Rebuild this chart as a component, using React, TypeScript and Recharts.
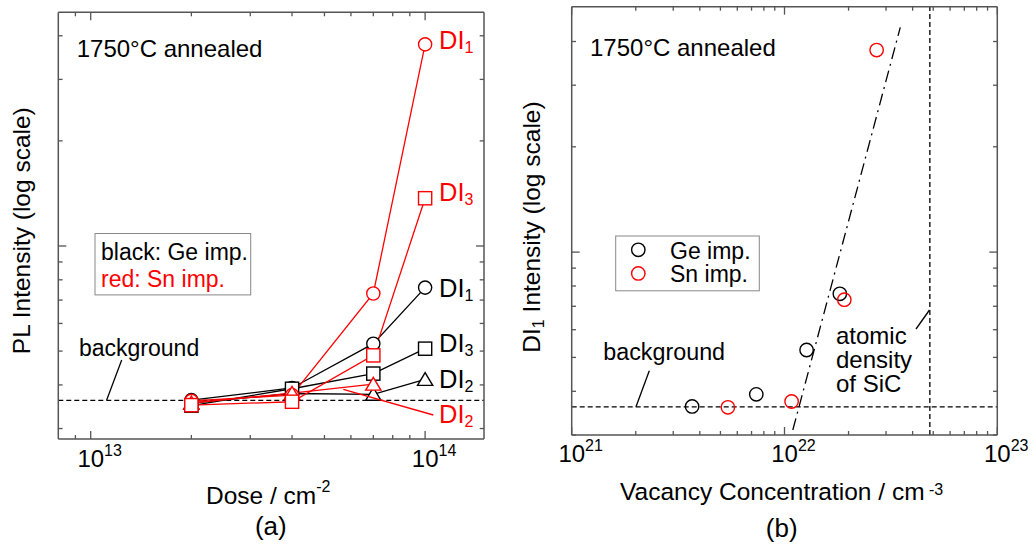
import React from 'react';
import { ComposedChart, Line, Scatter, XAxis, YAxis, ReferenceLine, ReferenceDot } from 'recharts';

const FONT = '"Liberation Sans", Arial, Helvetica, sans-serif';
const FRAME = '#555555';
const RED = '#ff0000';
const BLACK = '#000000';

// ---------- data (a): PL intensity vs dose ----------
const doses = [2e13, 4e13, 7e13, 1e14];
const geDI1 = [3.62, 3.92, 5.25, 7.6];
const geDI3 = [3.49, 3.9, 4.31, 5.08];
const geDI2 = [3.55, 3.78, 3.76, 4.15];
const snDI1 = [3.6, 3.74, 7.31, 37.8];
const snDI3 = [3.5, 3.58, 4.86, 13.7];
const snDI2 = [3.55, 3.79, 4.02];

// ---------- data (b): DI1 intensity vs vacancy concentration ----------
const geVacancy = [3.68e21, 7.37e21, 1.27e22, 1.82e22];
const snVacancy = [5.42e21, 1.08e22, 1.91e22, 2.71e22];
const fitLineX = [1.094e22, 3.5e22];
const fitLineY = [3.1, 43.9];

const backgroundLevel = 3.61;
const sicAtomicDensity = 4.82e22;

// ---------- axes ----------
const doseDomain = [8e12, 1.5e14];
const doseTicks = [9e12, 1e13, 2e13, 3e13, 4e13, 5e13, 6e13, 7e13, 8e13, 9e13, 1e14];
const vacDomain = [1e21, 1e23];
const vacTicks = [
  1e21, 2e21, 3e21, 4e21, 5e21, 6e21, 7e21, 8e21, 9e21,
  1e22, 2e22, 3e22, 4e22, 5e22, 6e22, 7e22, 8e22, 9e22, 1e23,
];
const intensityTicks = [3, 4, 5, 6, 7, 8, 9, 10, 20, 30, 40];
const leftIntensityDomain = [2.8, 46.7];
const rightIntensityDomain = [3.0, 50.3];

const toPoints = (xs: number[], ys: number[]) => ys.map((y, i) => ({ x: xs[i], y }));

function Marker({ cx, cy, kind, color }: { cx: number; cy: number; kind: string; color: string }) {
  if (cx == null || cy == null || isNaN(cx) || isNaN(cy)) return <g />;
  const sw = 1.4;
  if (kind === 'circle') {
    return <circle cx={cx} cy={cy} r={6.6} fill="#fff" stroke={color} strokeWidth={sw} />;
  }
  if (kind === 'square') {
    return <rect x={cx - 6.6} y={cy - 6.6} width={13.2} height={13.2} fill="#fff" stroke={color} strokeWidth={sw} />;
  }
  return (
    <polygon
      points={`${cx},${cy - 6.8} ${cx - 7.6},${cy + 6} ${cx + 7.6},${cy + 6}`}
      fill="#fff"
      stroke={color}
      strokeWidth={sw}
    />
  );
}

const dotRenderer = (kind: string, color: string, id: string) => (p: any) => (
  <Marker key={`${id}-${p.index}`} cx={p.cx} cy={p.cy} kind={kind} color={color} />
);

const scatterShape = (color: string) => (p: any) => (
  <circle cx={p.cx} cy={p.cy} r={6.7} fill="none" stroke={color} strokeWidth={1.4} />
);

const diLabel = (sub: string, color: string, dx: number, dy: number) => (p: any) => (
  <text x={p.cx + dx} y={p.cy + dy} fill={color} fontSize={25.5} fontFamily={FONT}>
    DI
    <tspan fontSize={16} dy={4}>
      {sub}
    </tspan>
  </text>
);

const xTick = (side: 'bottom' | 'top', labelGap: number) => (p: any) => {
  const v = p.payload.value;
  const e = Math.round(Math.log10(v));
  const major = Math.abs(v - Math.pow(10, e)) / v < 1e-6;
  const len = major ? 8 : 4;
  const y2 = side === 'bottom' ? p.y - len : p.y + len;
  return (
    <g>
      <line x1={p.x} y1={p.y} x2={p.x} y2={y2} stroke={FRAME} strokeWidth={1.3} />
      {side === 'bottom' && major ? (
        <text x={p.x - 13.3} y={p.y + labelGap} fontSize={24} fontFamily={FONT} fill="#000">
          10
          <tspan fontSize={16} dy={-11}>
            {e}
          </tspan>
        </text>
      ) : null}
    </g>
  );
};

const yTick = (side: 'left' | 'right') => (p: any) => {
  const major = p.payload.value === 10;
  const len = major ? 8 : 4.3;
  const dir = side === 'left' ? 1 : -1;
  return <line x1={p.x} y1={p.y} x2={p.x + dir * len} y2={p.y} stroke={FRAME} strokeWidth={1.3} />;
};

const axisLine = { stroke: FRAME, strokeWidth: 1.5 };

function panelAxes(xDomain: number[], xTicks: number[], yDomain: number[], labelGap: number) {
  const xCommon = {
    dataKey: 'x',
    type: 'number' as const,
    scale: 'log' as const,
    domain: xDomain,
    allowDataOverflow: true,
    ticks: xTicks,
    interval: 0 as const,
    height: 1,
    tickSize: 0,
    tickMargin: 0,
    axisLine,
    tickLine: false,
  };
  const yCommon = {
    dataKey: 'y',
    type: 'number' as const,
    scale: 'log' as const,
    domain: yDomain,
    allowDataOverflow: true,
    ticks: intensityTicks,
    interval: 0 as const,
    width: 1,
    tickSize: 0,
    tickMargin: 0,
    axisLine,
    tickLine: false,
  };
  return [
    <XAxis key="xb" xAxisId="b" {...xCommon} tick={xTick('bottom', labelGap)} />,
    <XAxis key="xt" xAxisId="t" orientation="top" {...xCommon} tick={xTick('top', 0)} />,
    <YAxis key="yl" yAxisId="l" {...yCommon} tick={yTick('left')} />,
    <YAxis key="yr" yAxisId="r" orientation="right" {...yCommon} tick={yTick('right')} />,
  ];
}

export default function App() {
  const lineCommon = {
    type: 'linear' as const,
    dataKey: 'y',
    xAxisId: 'b',
    yAxisId: 'l',
    strokeWidth: 1.3,
    isAnimationActive: false,
  };
  return (
    <div style={{ position: 'relative', width: 1034, height: 544, background: '#fff', fontFamily: FONT }}>
      <style>{'html,body{margin:0;padding:0;background:#fff;}'}</style>

      {/* ---------------- panel (a) ---------------- */}
      <div style={{ position: 'absolute', left: 0, top: 0 }}>
        <ComposedChart width={520} height={544} margin={{ top: 11.3, right: 35, bottom: 104, left: 57.3 }}>
          {panelAxes(doseDomain, doseTicks, leftIntensityDomain, 28.3)}
          <ReferenceLine
            y={backgroundLevel}
            xAxisId="b"
            yAxisId="l"
            stroke={BLACK}
            strokeWidth={1.3}
            strokeDasharray="5 3"
          />
          <Line {...lineCommon} data={toPoints(doses, geDI1)} stroke={BLACK} dot={dotRenderer('circle', BLACK, 'gd1')} />
          <Line {...lineCommon} data={toPoints(doses, geDI2)} stroke={BLACK} dot={dotRenderer('triangle', BLACK, 'gd2')} />
          <Line {...lineCommon} data={toPoints(doses, geDI3)} stroke={BLACK} dot={dotRenderer('square', BLACK, 'gd3')} />
          <Line {...lineCommon} data={toPoints(doses, snDI1)} stroke={RED} dot={dotRenderer('circle', RED, 'sd1')} />
          <Line {...lineCommon} data={toPoints(doses, snDI2)} stroke={RED} dot={dotRenderer('triangle', RED, 'sd2')} />
          <Line {...lineCommon} data={toPoints(doses, snDI3)} stroke={RED} dot={dotRenderer('square', RED, 'sd3')} />
          <ReferenceDot x={doses[3]} y={snDI1[3]} xAxisId="b" yAxisId="l" r={0} shape={diLabel('1', RED, 14, 5)} />
          <ReferenceDot x={doses[3]} y={snDI3[3]} xAxisId="b" yAxisId="l" r={0} shape={diLabel('3', RED, 14, 3)} />
          <ReferenceDot x={doses[3]} y={geDI1[3]} xAxisId="b" yAxisId="l" r={0} shape={diLabel('1', BLACK, 14, 9)} />
          <ReferenceDot x={doses[3]} y={geDI3[3]} xAxisId="b" yAxisId="l" r={0} shape={diLabel('3', BLACK, 14, 3.4)} />
          <ReferenceDot x={doses[3]} y={geDI2[3]} xAxisId="b" yAxisId="l" r={0} shape={diLabel('2', BLACK, 14, 9)} />
        </ComposedChart>
      </div>

      {/* ---------------- panel (b) ---------------- */}
      <div style={{ position: 'absolute', left: 520, top: 0 }}>
        <ComposedChart width={514} height={544} margin={{ top: 5.7, right: 35.7, bottom: 108, left: 50.7 }}>
          {panelAxes(vacDomain, vacTicks, rightIntensityDomain, 27)}
          <ReferenceLine
            y={backgroundLevel}
            xAxisId="b"
            yAxisId="l"
            stroke={BLACK}
            strokeWidth={1.3}
            strokeDasharray="5 3"
          />
          <ReferenceLine
            x={sicAtomicDensity}
            xAxisId="b"
            yAxisId="l"
            stroke={BLACK}
            strokeWidth={1.3}
            strokeDasharray="5 3"
          />
          <ReferenceLine
            xAxisId="b"
            yAxisId="l"
            segment={[
              { x: fitLineX[0], y: fitLineY[0] },
              { x: fitLineX[1], y: fitLineY[1] },
            ]}
            stroke={BLACK}
            strokeWidth={1.3}
            strokeDasharray="12 5 2 5"
          />
          <Scatter
            xAxisId="b"
            yAxisId="l"
            dataKey="y"
            data={toPoints(geVacancy, geDI1)}
            isAnimationActive={false}
            shape={scatterShape(BLACK)}
          />
          <Scatter
            xAxisId="b"
            yAxisId="l"
            dataKey="y"
            data={toPoints(snVacancy, snDI1)}
            isAnimationActive={false}
            shape={scatterShape(RED)}
          />
        </ComposedChart>
      </div>

      {/* ---------------- annotations ---------------- */}
      <svg
        width={1034}
        height={544}
        style={{ position: 'absolute', left: 0, top: 0, pointerEvents: 'none' }}
        fontFamily={FONT}
      >
        {/* panel (a) */}
        <text x={76.7} y={56.7} fontSize={24} fill="#000">1750°C annealed</text>
        <rect x={95} y={233.5} width={155.7} height={61.4} fill="#fff" stroke="#888" strokeWidth={1} />
        <text x={101} y={259.5} fontSize={23} fill="#000">black: Ge imp.</text>
        <text x={101} y={287.3} fontSize={23} fill={RED}>red: Sn imp.</text>
        <text x={79} y={356} fontSize={23} fill="#000">background</text>
        <line x1={106.7} y1={400} x2={121.7} y2={360} stroke="#000" strokeWidth={1.3} />
        <line x1={343.3} y1={389.3} x2={433.3} y2={415} stroke={RED} strokeWidth={1.3} />
        <text x={439} y={423.3} fill={RED} fontSize={25.5}>
          DI
          <tspan fontSize={16} dy={4}>2</tspan>
        </text>
        <text x={30} y={230.7} fontSize={24.5} textAnchor="middle" transform="rotate(-90 30 230.7)" fill="#000">
          PL Intensity (log scale)
        </text>
        <text x={206} y={504} fontSize={24.5} fill="#000">
          Dose / cm
          <tspan fontSize={16} dy={-12}>-2</tspan>
        </text>
        <text x={270.8} y={535} fontSize={26} textAnchor="middle" fill="#000">(a)</text>

        {/* panel (b) */}
        <text x={590} y={56} fontSize={24} fill="#000">1750°C annealed</text>
        <rect x={615.7} y={236} width={143.6} height={54.8} fill="#fff" stroke="#888" strokeWidth={1} />
        <circle cx={638.3} cy={249.8} r={6.7} fill="none" stroke="#000" strokeWidth={1.4} />
        <circle cx={638.3} cy={273.4} r={6.7} fill="none" stroke={RED} strokeWidth={1.4} />
        <text x={670} y={258.5} fontSize={23} fill="#000">Ge imp.</text>
        <text x={670} y={281.7} fontSize={23} fill="#000">Sn imp.</text>
        <text x={603.3} y={360} fontSize={23.3} fill="#000">background</text>
        <line x1={636} y1={406.7} x2={649.3} y2={370.7} stroke="#000" strokeWidth={1.3} />
        <text x={836} y={343.5} fontSize={24} fill="#000">atomic</text>
        <text x={836} y={367.5} fontSize={24} fill="#000">density</text>
        <text x={836} y={391.5} fontSize={24} fill="#000">of SiC</text>
        <line x1={916} y1={329} x2={929.5} y2={310} stroke="#000" strokeWidth={1.3} />
        <text x={540} y={227} fontSize={24.5} textAnchor="middle" transform="rotate(-90 540 227)" fill="#000">
          DI
          <tspan fontSize={16} dy={4}>1</tspan>
          <tspan fontSize={24.5} dy={-4}> Intensity (log scale)</tspan>
        </text>
        <text x={620} y={500} fontSize={24.5} fill="#000">
          Vacancy Concentration / cm
          <tspan fontSize={16} dy={-5}> -3</tspan>
        </text>
        <text x={781.7} y={537} fontSize={26} textAnchor="middle" fill="#000">(b)</text>
      </svg>
    </div>
  );
}
